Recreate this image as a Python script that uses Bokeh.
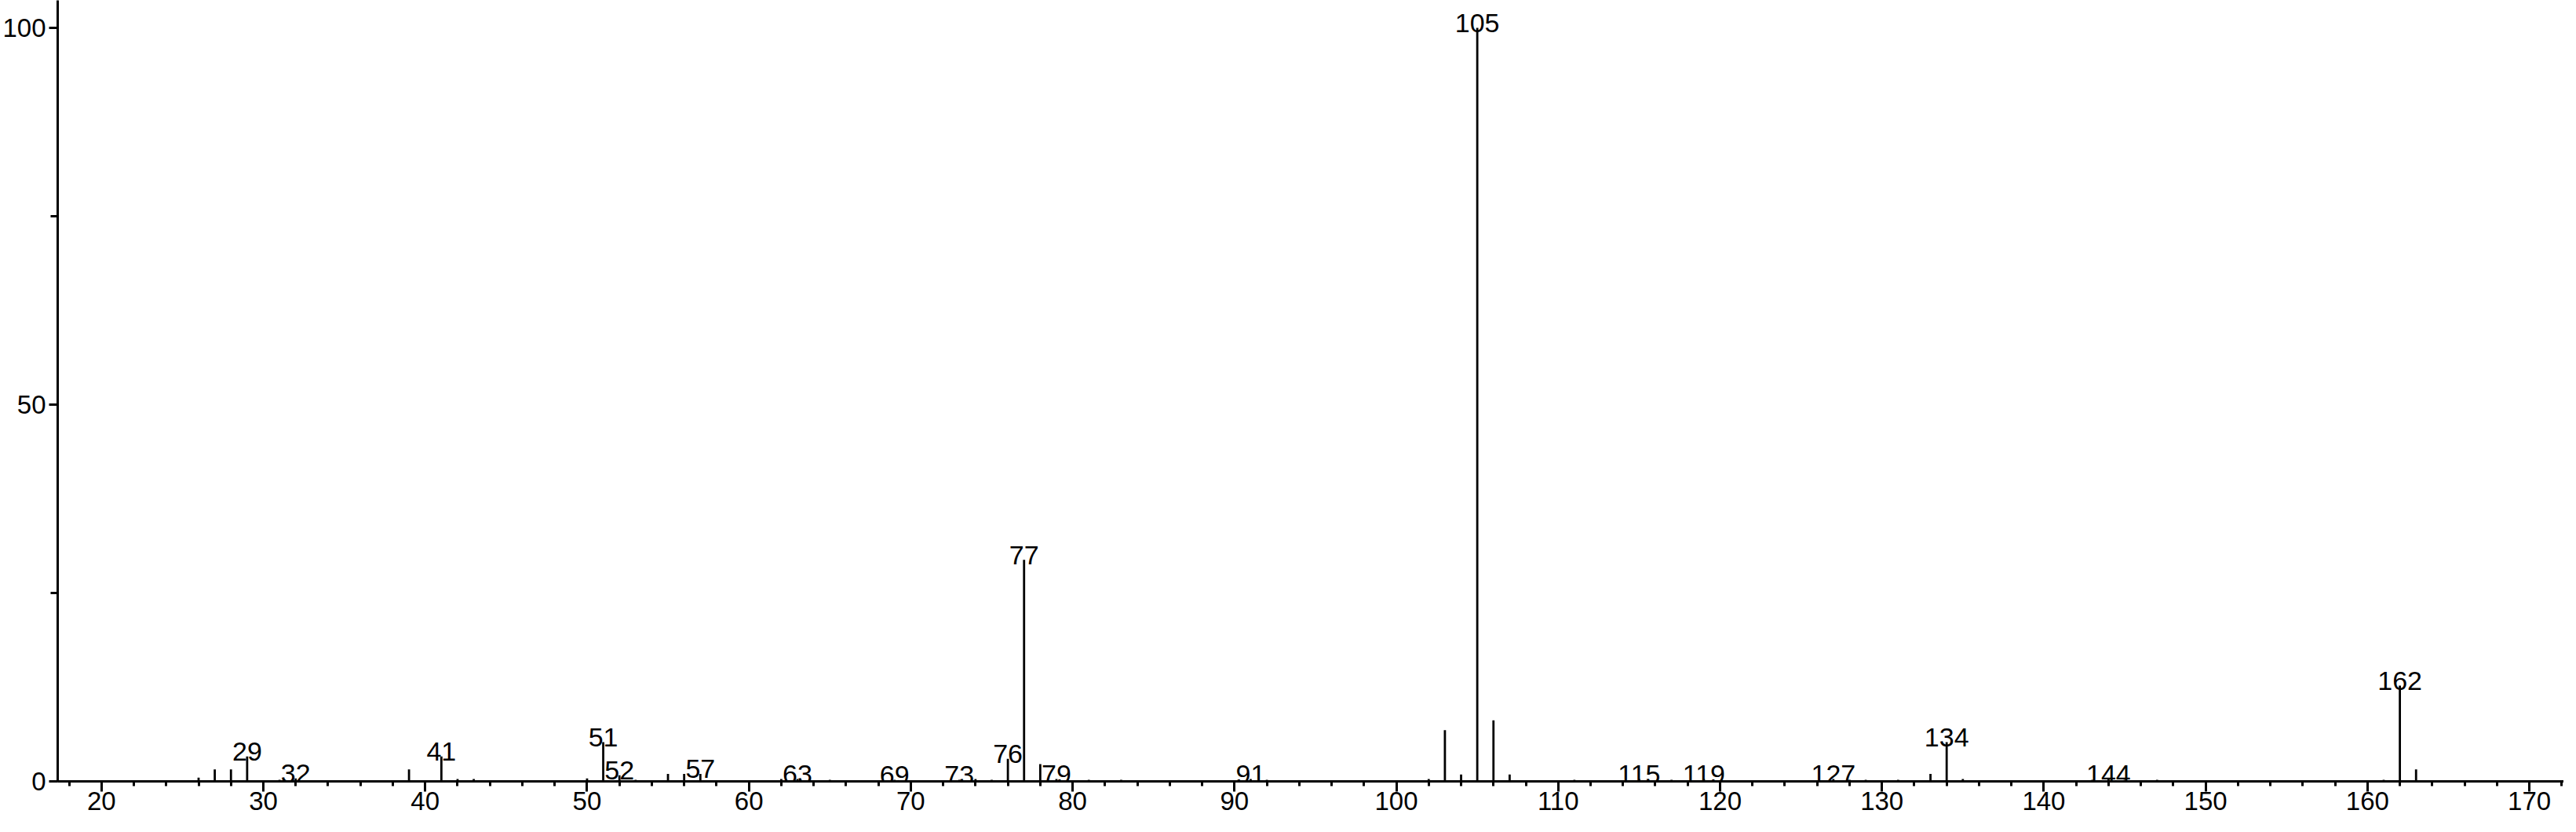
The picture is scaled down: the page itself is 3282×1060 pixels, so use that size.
from bokeh.plotting import figure
from bokeh.models import Range1d, SingleIntervalTicker, ColumnDataSource
from bokeh.core.properties import value
from bokeh.embed import file_html
from bokeh.resources import INLINE

# m/z values and relative intensities
mz = [26, 27, 28, 29, 31, 32, 39, 41, 42, 43, 50, 51, 52, 53, 55, 56, 57,
      62, 63, 65, 69, 73, 74, 75, 76, 77, 78, 79, 81, 83, 91, 92,
      102, 103, 104, 105, 106, 107, 111, 115, 117, 119, 127, 128, 129, 131,
      133, 134, 135, 143, 144, 145, 147, 161, 162, 163]
intensity = [0.5, 1.6, 1.6, 3.3, 0.2, 0.4, 1.6, 3.3, 0.3, 0.3, 0.4, 5.2, 0.8, 0.2, 1.0, 1.0, 1.0,
             0.3, 0.3, 0.2, 0.2, 0.2, 0.3, 0.2, 3.0, 29.4, 2.3, 0.3, 0.2, 0.2, 0.3, 0.2,
             0.3, 6.8, 0.9, 100.0, 8.1, 0.9, 0.2, 0.3, 0.2, 0.3, 0.3, 0.2, 0.2, 0.2,
             1.0, 5.2, 0.3, 0.2, 0.3, 0.2, 0.2, 0.2, 12.7, 1.6]

# peaks that carry a label
label_mz = [29, 32, 41, 51, 52, 57, 63, 69, 73, 76, 77, 79, 91, 105, 115, 119, 127, 134, 144, 162]

lookup = dict(zip(mz, intensity))
label_y = [lookup[m] for m in label_mz]
label_txt = [str(m) for m in label_mz]

FONT = "Liberation Sans"
FS = "33px"

p = figure(width=3266, height=1044, output_backend="svg", toolbar_location=None,
           x_range=Range1d(17.295, 172.13), y_range=Range1d(0, 103.65),
           min_border_left=61, min_border_right=0, min_border_top=0, min_border_bottom=49)
p.outline_line_color = None
p.xgrid.visible = False
p.ygrid.visible = False
p.background_fill_color = "white"
p.border_fill_color = "white"

p.segment(x0=mz, y0=[0] * len(mz), x1=mz, y1=intensity, line_color="black", line_width=2.8)

src = ColumnDataSource(dict(x=label_mz, y=label_y, t=label_txt))
p.text(x="x", y="y", text="t", source=src, text_align="center", text_baseline="alphabetic",
       y_offset=-6, text_font=value(FONT), text_font_size="34px", text_color="black")

xa = p.xaxis[0]
xa.ticker = SingleIntervalTicker(interval=10, num_minor_ticks=5)
xa.axis_line_width = 3
xa.axis_line_color = "black"
xa.major_tick_line_width = 3
xa.minor_tick_line_width = 3
xa.major_tick_out = 13
xa.major_tick_in = 0
xa.minor_tick_out = 6
xa.minor_tick_in = 0
xa.major_label_text_font = FONT
xa.major_label_text_font_size = FS
xa.major_label_text_color = "black"
xa.major_label_standoff = 0

ya = p.yaxis[0]
ya.ticker = SingleIntervalTicker(interval=50, num_minor_ticks=2)
ya.axis_line_width = 3
ya.axis_line_color = "black"
ya.major_tick_line_width = 3
ya.minor_tick_line_width = 3
ya.major_tick_out = 11
ya.major_tick_in = 0
ya.minor_tick_out = 9
ya.minor_tick_in = 0
ya.major_label_text_font = FONT
ya.major_label_text_font_size = FS
ya.major_label_text_color = "black"
ya.major_label_standoff = 4

open("out.html", "w").write(file_html(p, INLINE))
